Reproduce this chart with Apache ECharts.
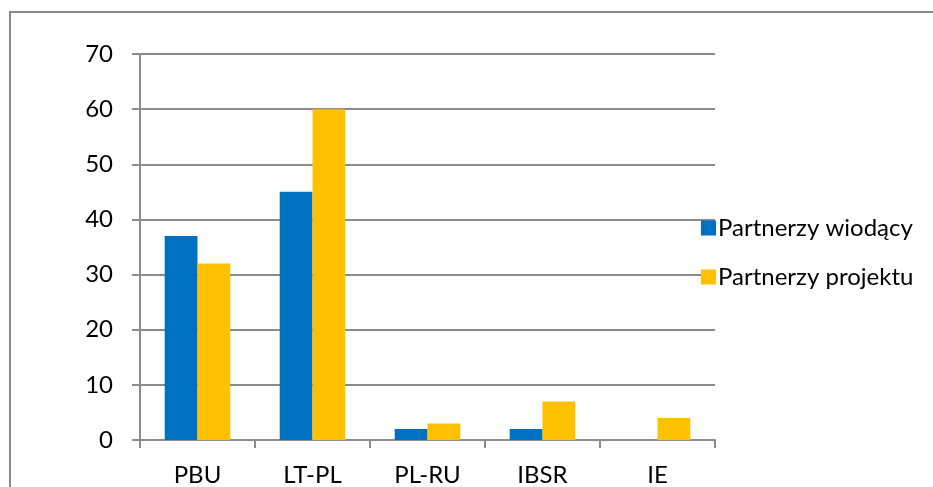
<!DOCTYPE html>
<html>
<head>
<meta charset="utf-8">
<script src="https://cdn.jsdelivr.net/npm/echarts@6/dist/echarts.min.js"></script>
<style>
html,body{margin:0;padding:0;background:#fff;}
#c{width:933px;height:487px;}
</style>
</head>
<body>
<div id="c"></div>
<script>
const categories = ['PBU', 'LT-PL', 'PL-RU', 'IBSR', 'IE'];
const leadPartners = [37, 45, 2, 2, 0];
const projectPartners = [32, 60, 3, 7, 4];
const seriesNames = ['Partnerzy wiodący', 'Partnerzy projektu'];
const yTicks = [0, 10, 20, 30, 40, 50, 60, 70];

const FONT = 'Lato';
const FS = 24;
const chart = echarts.init(document.getElementById('c'), null, {renderer: 'canvas'});
chart.setOption({
  animation: false,
  backgroundColor: '#fff',
  textStyle: {fontFamily: FONT},
  graphic: [{
    type: 'rect',
    shape: {x: 10, y: 12, width: 1000, height: 600},
    style: {fill: 'none', stroke: '#8a8a8a', lineWidth: 2},
    silent: true
  }],
  legend: {
    orient: 'vertical',
    left: 696,
    top: 211,
    itemWidth: 15,
    itemHeight: 15,
    itemGap: 25,
    icon: 'rect',
    textStyle: {fontFamily: FONT, fontSize: FS, color: '#000', padding: [0, 0, 0, -3]},
    data: seriesNames
  },
  grid: {left: 140, right: 218, top: 54, bottom: 47, containLabel: false},
  xAxis: {
    type: 'category',
    data: categories,
    axisLine: {lineStyle: {color: '#8c8c8c', width: 2}},
    axisTick: {show: true, length: 8, lineStyle: {color: '#8c8c8c', width: 2}},
    axisLabel: {fontFamily: FONT, fontSize: FS, color: '#000', margin: 23},
    splitLine: {show: false}
  },
  yAxis: {
    type: 'value',
    min: yTicks[0],
    max: yTicks[yTicks.length - 1],
    interval: 10,
    axisLine: {show: true, lineStyle: {color: '#8c8c8c', width: 2}},
    axisTick: {show: true, length: 8, lineStyle: {color: '#8c8c8c', width: 2}},
    axisLabel: {fontFamily: FONT, fontSize: FS, color: '#000', margin: 27},
    splitLine: {show: true, lineStyle: {color: '#8c8c8c', width: 2}}
  },
  series: [
    {name: seriesNames[0], type: 'bar', data: leadPartners, itemStyle: {color: '#0070C0'}, barGap: '0%', barCategoryGap: '43%'},
    {name: seriesNames[1], type: 'bar', data: projectPartners, itemStyle: {color: '#FFC000'}, barGap: '0%', barCategoryGap: '43%'}
  ]
});
</script>
</body>
</html>
